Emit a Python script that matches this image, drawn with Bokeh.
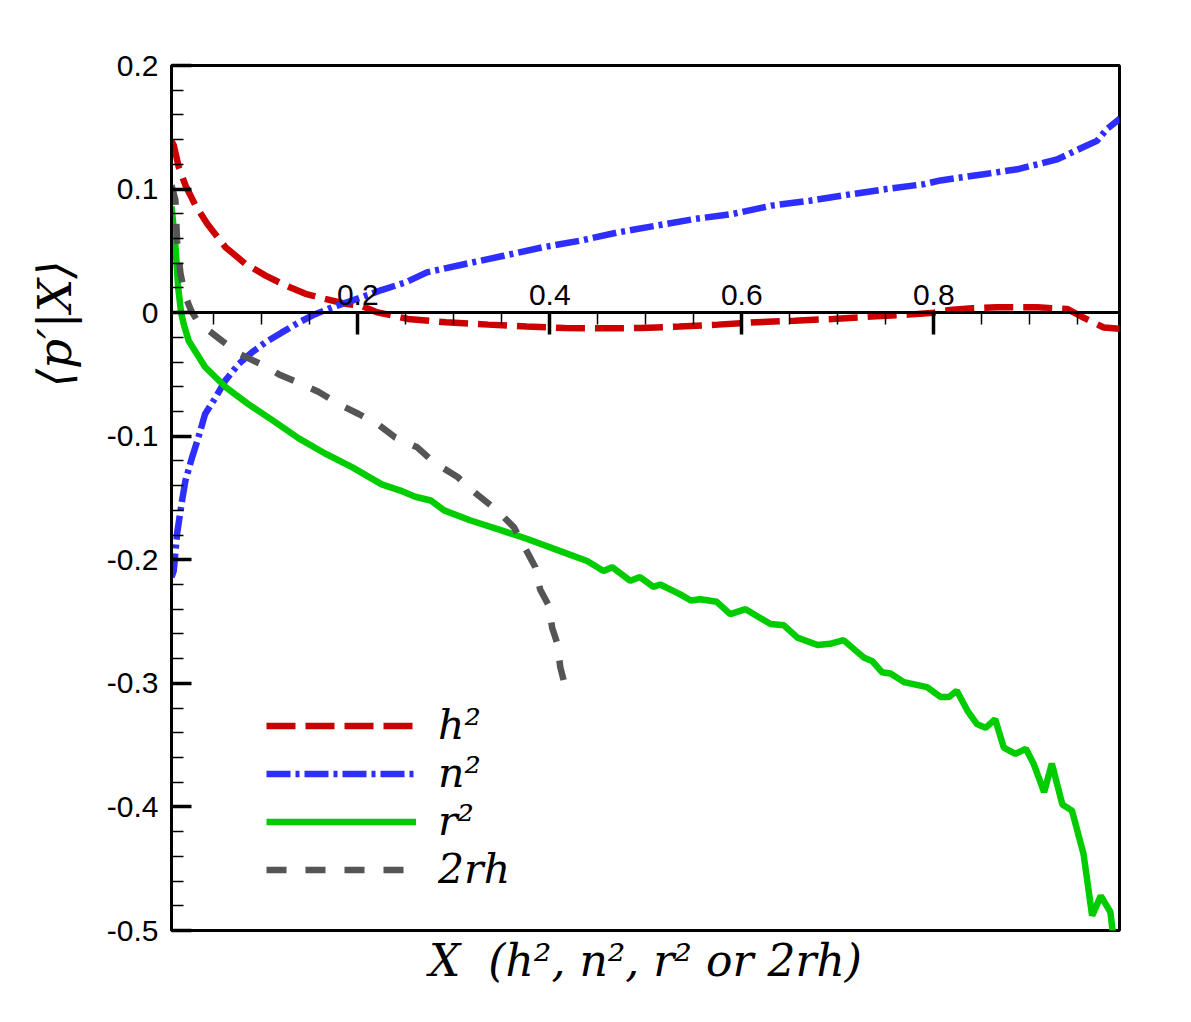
from bokeh.plotting import figure
from bokeh.models import (Range1d, LinearAxis, FixedTicker, CustomJSTickFormatter,
                          Title, Legend, LegendItem)
from bokeh.embed import file_html
from bokeh.resources import INLINE

# ---------------- data ----------------
x_h2 = [0.006, 0.0084, 0.0136, 0.0206, 0.031, 0.0432, 0.0622, 0.083, 0.104, 0.1248,
        0.1456, 0.166, 0.187, 0.203, 0.220, 0.240, 0.252, 0.292, 0.336, 0.376,
        0.416, 0.456, 0.495, 0.535, 0.575, 0.615, 0.655, 0.695, 0.735, 0.774,
        0.800, 0.817, 0.840, 0.866, 0.908, 0.939, 0.956, 0.977, 0.994]
y_h2 = [0.139, 0.1353, 0.1177, 0.1029, 0.0867, 0.0719, 0.053, 0.0395, 0.030, 0.022,
        0.0152, 0.0112, 0.0072, 0.0057, 0.0003, -0.003, -0.0051, -0.0078, -0.0097, -0.0113,
        -0.0124, -0.0127, -0.0124, -0.0113, -0.0097, -0.0078, -0.0065, -0.0051, -0.0032, -0.0016,
        0.0, 0.0022, 0.0035, 0.0043, 0.0043, 0.003, -0.004, -0.012, -0.013]

x_n2 = [0.006, 0.0083, 0.0118, 0.017, 0.0205, 0.0275, 0.034, 0.041, 0.052, 0.062,
        0.076, 0.090, 0.104, 0.121, 0.139, 0.1525, 0.173, 0.194, 0.2255, 0.25,
        0.272, 0.312, 0.352, 0.392, 0.432, 0.4715, 0.511, 0.551, 0.591, 0.631,
        0.671, 0.711, 0.7505, 0.790, 0.807, 0.852, 0.887, 0.9285, 0.956, 0.970,
        0.981, 0.994]
y_n2 = [-0.214, -0.209, -0.179, -0.152, -0.136, -0.117, -0.101, -0.082, -0.0685, -0.055,
        -0.0415, -0.032, -0.024, -0.016, -0.0078, -0.0024, 0.0043, 0.0097, 0.0185, 0.0245,
        0.0326, 0.0394, 0.046, 0.0528, 0.0583, 0.065, 0.0704, 0.0758, 0.0799, 0.0866,
        0.0906, 0.0955, 0.100, 0.104, 0.107, 0.112, 0.116, 0.124, 0.134, 0.139,
        0.149, 0.157]

x_r2 = [0.006, 0.010, 0.013, 0.016, 0.019, 0.024, 0.041, 0.062, 0.086, 0.111,
        0.139, 0.166, 0.194, 0.225, 0.2445, 0.260, 0.276, 0.290, 0.317, 0.349,
        0.376, 0.411, 0.439, 0.456, 0.465, 0.484, 0.494, 0.508, 0.515, 0.536,
        0.547, 0.557, 0.574, 0.588, 0.604, 0.630, 0.644, 0.658, 0.679, 0.692,
        0.706, 0.727, 0.736, 0.746, 0.755, 0.769, 0.793, 0.807, 0.816, 0.824,
        0.835, 0.845, 0.854, 0.864, 0.873, 0.885, 0.896, 0.904, 0.915, 0.923,
        0.934, 0.944, 0.956, 0.965, 0.974, 0.984, 0.987]
y_r2 = [0.086, 0.055, 0.020, 0.0, -0.010, -0.023, -0.044, -0.060, -0.074, -0.087,
        -0.102, -0.114, -0.125, -0.139, -0.144, -0.149, -0.152, -0.160, -0.168, -0.176,
        -0.183, -0.193, -0.201, -0.209, -0.206, -0.217, -0.214, -0.222, -0.220, -0.228,
        -0.233, -0.232, -0.234, -0.244, -0.240, -0.252, -0.253, -0.263, -0.269, -0.268,
        -0.265, -0.279, -0.282, -0.291, -0.292, -0.299, -0.303, -0.311, -0.311, -0.306,
        -0.322, -0.333, -0.336, -0.329, -0.352, -0.357, -0.353, -0.365, -0.388, -0.365,
        -0.398, -0.403, -0.438, -0.488, -0.472, -0.485, -0.505]

x_2rh = [0.006, 0.0101, 0.0118, 0.0153, 0.020, 0.0265, 0.034, 0.059, 0.076, 0.100,
         0.118, 0.142, 0.159, 0.180, 0.201, 0.222, 0.239, 0.262, 0.279, 0.304,
         0.321, 0.345, 0.363, 0.376, 0.385, 0.390, 0.399, 0.4025, 0.408, 0.411,
         0.416]
y_2rh = [0.103, 0.091, 0.058, 0.032, 0.014, 0.0016, -0.008, -0.023, -0.033, -0.042,
         -0.050, -0.058, -0.064, -0.074, -0.082, -0.091, -0.101, -0.109, -0.121, -0.133,
         -0.145, -0.160, -0.174, -0.193, -0.206, -0.224, -0.237, -0.255, -0.268, -0.287,
         -0.302]

series_labels = ["h\u00b2", "n\u00b2", "r\u00b2", "2rh"]
y_title = "\u27e8p\u2032|X\u27e9"
x_title = "X\u00a0\u00a0(h\u00b2, n\u00b2, r\u00b2 or 2rh)"

y_ticks = [-0.5, -0.4, -0.3, -0.2, -0.1, 0.0, 0.1, 0.2]
y_minor = [-0.48, -0.46, -0.44, -0.42, -0.38, -0.36, -0.34, -0.32,
           -0.28, -0.26, -0.24, -0.22, -0.18, -0.16, -0.14, -0.12,
           -0.08, -0.06, -0.04, -0.02, 0.02, 0.04, 0.06, 0.08,
           0.12, 0.14, 0.16, 0.18]
x_ticks = [0.2, 0.4, 0.6, 0.8]
x_minor = [0.05, 0.1, 0.15, 0.25, 0.3, 0.35, 0.45, 0.5, 0.55,
           0.65, 0.7, 0.75, 0.85, 0.9, 0.95]

# ---------------- figure ----------------
p = figure(frame_width=948, frame_height=865,
           x_range=Range1d(0.006, 0.9935), y_range=Range1d(-0.5, 0.2),
           output_backend="svg", toolbar_location=None,
           x_axis_location=None, y_axis_location="left",
           min_border_left=171, min_border_top=65,
           min_border_right=55, min_border_bottom=76)
p.grid.visible = False
p.background_fill_color = "white"
p.border_fill_color = "white"
p.outline_line_color = "black"
p.outline_line_width = 3

tick_font = "Liberation Sans"
tick_size = "30px"
math_font = "DejaVu Serif"

yax = p.yaxis[0]
yax.ticker = FixedTicker(ticks=y_ticks, minor_ticks=y_minor)
yax.formatter = CustomJSTickFormatter(code="return tick.toFixed(1).replace(/\\.0$/, '');")
yax.major_tick_in = 20
yax.major_tick_out = 0
yax.minor_tick_in = 12
yax.minor_tick_out = 0
yax.axis_line_width = 3
yax.major_tick_line_width = 3.5
yax.minor_tick_line_width = 1.5
yax.major_label_standoff = 13
yax.major_label_text_font = tick_font
yax.major_label_text_font_size = tick_size
yax.major_label_text_color = "black"

xax = LinearAxis(fixed_location=0,
                 ticker=FixedTicker(ticks=x_ticks, minor_ticks=x_minor),
                 formatter=CustomJSTickFormatter(code="return tick.toFixed(1);"),
                 major_tick_in=22, major_tick_out=0,
                 minor_tick_in=12, minor_tick_out=0,
                 axis_line_width=3, major_tick_line_width=3.5,
                 minor_tick_line_width=1.5, major_label_standoff=8,
                 major_label_text_font=tick_font,
                 major_label_text_font_size=tick_size,
                 major_label_text_color="black")
p.add_layout(xax, "above")

# ---------------- curves ----------------
lw = 6.5
r_h2 = p.line(x_h2, y_h2, line_color="#cc0000", line_width=lw, line_dash="29 10")
r_n2 = p.line(x_n2, y_n2, line_color="#2e2eff", line_width=lw, line_dash="24 5 4 5")
r_r2 = p.line(x_r2, y_r2, line_color="#00cc00", line_width=lw)
r_2rh = p.line(x_2rh, y_2rh, line_color="#555555", line_width=lw, line_dash="20 19")

legend = Legend(items=[LegendItem(label=series_labels[0], renderers=[r_h2]),
                       LegendItem(label=series_labels[1], renderers=[r_n2]),
                       LegendItem(label=series_labels[2], renderers=[r_r2]),
                       LegendItem(label=series_labels[3], renderers=[r_2rh])],
                location=(95, 37), padding=0, spacing=0, margin=0,
                glyph_width=150, glyph_height=47, label_height=47,
                label_standoff=22, border_line_color=None,
                background_fill_alpha=0,
                label_text_font=math_font, label_text_font_style="italic",
                label_text_font_size="41px", label_text_color="black")
p.add_layout(legend)

# ---------------- axis titles ----------------
ytl = Title(text=y_title, align="right", offset=195, vertical_align="bottom",
            standoff=44, text_font=math_font, text_font_style="italic",
            text_font_size="47px", text_color="black")
p.add_layout(ytl, "left")

xtl = Title(text=x_title, align="center", vertical_align="top", standoff=8,
            text_font=math_font, text_font_style="italic",
            text_font_size="44px", text_color="black")
p.add_layout(xtl, "below")

open("out.html", "w").write(file_html(p, INLINE))
